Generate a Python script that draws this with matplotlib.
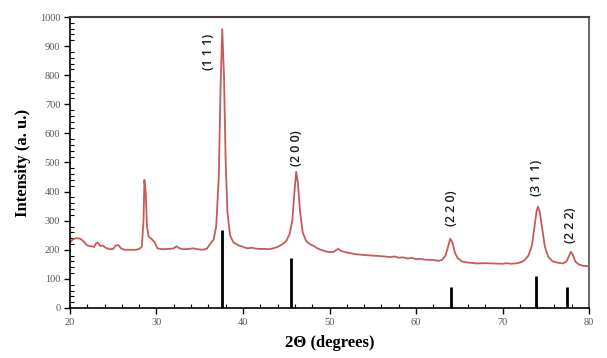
import matplotlib
matplotlib.use('Agg')
from matplotlib import pyplot as plt
from matplotlib.ticker import MultipleLocator

two_theta = [20.0, 20.3, 20.7, 21.2, 21.6, 22.0, 22.4, 22.8, 23.0, 23.2, 23.5, 23.8, 24.1,
             24.6, 25.0, 25.3, 25.6, 25.9, 26.3, 27.0, 27.6, 28.0, 28.3, 28.5, 28.6, 28.75,
             28.9, 29.1, 29.5, 29.8, 30.1, 30.6, 31.5, 32.0, 32.3, 32.6, 33.0, 33.8, 34.2,
             34.6, 35.2, 35.8, 36.2, 36.6, 36.9, 37.2, 37.4, 37.6, 37.8, 38.0, 38.2, 38.5,
             38.9, 39.5, 40.0, 40.5, 41.0, 41.5, 42.0, 42.5, 43.0, 43.5, 44.0, 44.5, 45.0,
             45.4, 45.7, 45.95, 46.15, 46.35, 46.6, 46.9, 47.3, 47.8, 48.2, 48.6, 49.0, 49.5,
             50.0, 50.5, 50.8, 51.0, 51.3, 51.8, 52.5, 53.0, 54.0, 55.0, 56.0, 57.0, 57.5,
             58.0, 58.5, 59.0, 59.5, 60.0, 60.5, 61.0, 62.0, 62.6, 63.0, 63.4, 63.7, 63.95,
             64.2, 64.5, 64.8, 65.3, 66.0, 66.5, 67.0, 68.0, 69.0, 70.0, 70.5, 71.0, 71.5,
             72.0, 72.5, 73.0, 73.4, 73.7, 73.95, 74.1, 74.3, 74.6, 74.9, 75.3, 75.8, 76.5,
             77.0, 77.4, 77.7, 77.9, 78.1, 78.4, 78.8, 79.3, 80.0]
intensity = [225, 235, 240, 238, 228, 215, 212, 210, 222, 225, 213, 215, 207,
             202, 203, 215, 216, 205, 200, 200, 200, 203, 210, 300, 440, 400,
             280, 245, 235, 225, 205, 202, 203, 205, 212, 206, 202, 203, 205,
             203, 200, 203, 220, 235, 280, 450, 750, 958, 800, 500, 330, 250,
             225, 215, 210, 205, 207, 204, 203, 203, 202, 205, 210, 218, 230,
             255, 300, 400, 468, 430, 330, 260, 230, 218, 213, 205, 200, 195,
             192, 193, 200, 203, 197, 192, 188, 185, 182, 180, 178, 175, 177,
             173, 174, 170, 172, 168, 169, 166, 165, 162, 165, 180, 210, 238,
             225, 190, 172, 160, 156, 155, 153, 154, 153, 152, 154, 152, 153,
             156, 163, 180, 215, 280, 335, 348, 330, 270, 210, 175, 160, 155,
             153, 160, 180, 193, 185, 160, 150, 145, 143]

# reference pattern sticks
ref_pos = [37.55, 45.6, 64.0, 73.9, 77.5]
ref_int = [268, 173, 73, 111, 73]

# peak labels
hkl = ['(1 1 1)', '(2 0 0)', '(2 2 0)', '(3 1 1)', '(2 2 2)']
hkl_x = [36.0, 46.2, 64.1, 73.9, 77.8]
hkl_y = [880, 550, 343, 447, 285]

fig = plt.figure(figsize=(6.07, 3.58), dpi=100)
ax = fig.add_axes([0.1153, 0.1397, 0.8551, 0.8128])

ax.plot(two_theta, intensity, color='#c85a5a', lw=1.3)
ax.vlines(ref_pos, 0, ref_int, color='black', lw=2)

for lab, x, y in zip(hkl, hkl_x, hkl_y):
    ax.text(x, y, lab, rotation=90, ha='center', va='center', fontsize=9,
            fontweight='semibold', color='#1a1a1a', fontfamily='Open Sans')

ax.set_xlim(20, 80)
ax.set_ylim(0, 1000)
ax.xaxis.set_major_locator(MultipleLocator(10))
ax.xaxis.set_minor_locator(MultipleLocator(2))
ax.yaxis.set_major_locator(MultipleLocator(100))
ax.yaxis.set_minor_locator(MultipleLocator(20))
ax.tick_params(which='major', direction='out', length=4, width=1, labelsize=7.5,
               labelcolor='#555555', pad=3)
ax.tick_params(which='minor', direction='in', length=3, width=0.8)
for lab in ax.get_xticklabels() + ax.get_yticklabels():
    lab.set_fontfamily('Liberation Serif')

ax.spines['top'].set_color('#404040')
ax.spines['top'].set_linewidth(1.5)
ax.spines['right'].set_color('#707070')
ax.spines['right'].set_linewidth(1.5)
ax.spines['left'].set_linewidth(1.2)
ax.spines['bottom'].set_linewidth(1.2)

ax.set_xlabel('2Θ (degrees)', fontsize=12, fontweight='bold',
              fontfamily='Liberation Serif', labelpad=6)
ax.set_ylabel('Intensity (a. u.)', fontsize=12, fontweight='bold',
              fontfamily='Liberation Serif', labelpad=6)

fig.savefig('out.png', dpi=100)
